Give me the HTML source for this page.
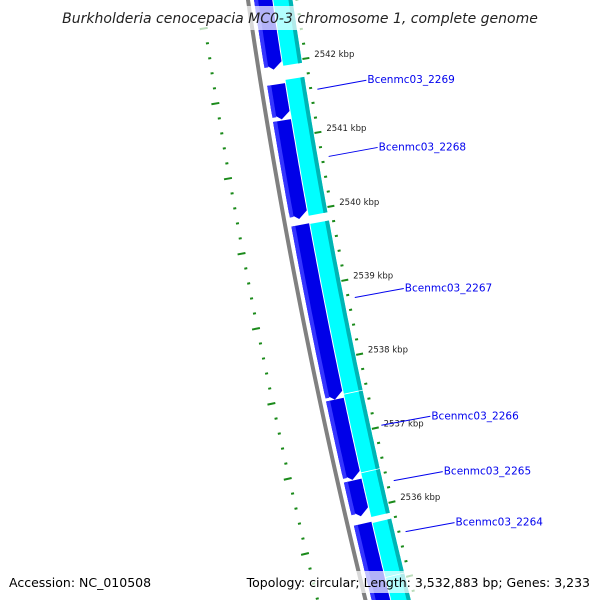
<!DOCTYPE html>
<html><head><meta charset="utf-8"><style>
html,body{margin:0;padding:0;background:#fff;}
svg{display:block;font-family:"DejaVu Sans","Liberation Sans",sans-serif;}
</style></head><body>
<svg id="chart" width="600" height="600" viewBox="0 0 600 600" xmlns="http://www.w3.org/2000/svg">
<g id="layer"></g>
<rect x="62" y="6" width="476" height="24" fill="#fff" opacity="0.7"/>
<text x="300" y="23" text-anchor="middle" font-style="italic" font-size="14" fill="#222">Burkholderia cenocepacia MC0-3 chromosome 1, complete genome</text>
<rect x="5" y="571" width="143" height="22" fill="#fff" opacity="0.7"/>
<text x="9" y="587" font-size="12.5" fill="#000">Accession: NC_010508</text>
<rect x="257" y="571" width="338" height="22" fill="#fff" opacity="0.7"/>
<text x="590" y="587" text-anchor="end" font-size="12.5" fill="#000">Topology: circular; Length: 3,532,883 bp; Genes: 3,233</text>
</svg>
<script>
// data (kbp)
const minusGeneStarts = [2543.0, 2541.72, 2541.235, 2539.83, 2537.48, 2536.39, 2535.81];
const minusGeneEnds   = [2541.92, 2541.25, 2539.91, 2537.48, 2536.40, 2535.91, 2534.6];
const plusGeneStarts  = [2543.0, 2541.76, 2539.82, 2537.52, 2536.46, 2535.79, 2535.05];
const plusGeneEnds    = [2541.94, 2539.92, 2537.52, 2536.46, 2535.86, 2535.05, 2534.6];
const majorTicks = [2536, 2537, 2538, 2539, 2540, 2541, 2542];
const tickLabels = ["2536 kbp","2537 kbp","2538 kbp","2539 kbp","2540 kbp","2541 kbp","2542 kbp"];
const geneLabelPos = [2541.57, 2540.66, 2538.75, 2537.02, 2536.27, 2535.58];
const geneLabelText = ["Bcenmc03_2269","Bcenmc03_2268","Bcenmc03_2267","Bcenmc03_2266","Bcenmc03_2265","Bcenmc03_2264"];

const NS='http://www.w3.org/2000/svg';
const layer=document.getElementById('layer');
function yOf(kbp){return 66+(2542-kbp)*74.5;}
function gx(y){return 248+0.1458*y+8.33e-5*y*y;}
function pt(y,d){const s=0.1458+1.666e-4*y;const L=Math.sqrt(1+s*s);return [gx(y)+d/L, y-d*s/L];}
function mk(tag,attrs){const e=document.createElementNS(NS,tag);for(const k in attrs)e.setAttribute(k,attrs[k]);layer.appendChild(e);return e;}
function band(y1,y2,o1,o2,fill,arrow){
  const a=[],b=[];const n=30;
  const yEnd=arrow?y2-7:y2;
  for(let i=0;i<=n;i++){const y=y1+(yEnd-y1)*i/n;a.push(pt(y,o1));b.push(pt(y,o2));}
  let pts=a.slice();
  if(arrow){pts.push(pt(y2,(o1+o2)/2));}
  pts=pts.concat(b.reverse());
  return mk('polygon',{points:pts.map(p=>p[0].toFixed(1)+','+p[1].toFixed(1)).join(' '),fill:fill});
}
// backbone
{const p=[];for(let y=-10;y<=610;y+=10)p.push(pt(y,0));
 const e=mk('polyline',{points:p.map(q=>q.join(',')).join(' '),fill:'none',stroke:'#808080','stroke-width':4});
 }
// minus genes
for(let i=0;i<minusGeneStarts.length;i++){
  const y1=Math.max(-20,yOf(minusGeneStarts[i])), y2=Math.min(620,yOf(minusGeneEnds[i]));
  const arrow=yOf(minusGeneEnds[i])<600;
  let e=band(y1,y2,6,24,'#0000e8',arrow);
  
  e=band(y1,y2-(arrow?3:0),6,10,'#3535ff',false);
  
}
// plus genes
for(let i=0;i<plusGeneStarts.length;i++){
  const y1=Math.max(-20,yOf(plusGeneStarts[i])), y2=Math.min(620,yOf(plusGeneEnds[i]));
  let e=band(y1,y2-0.8,25,44,'#00ffff',false);
  
  e=band(y1,y2-0.8,40,44,'#00b4b4',false);
  
}
// ticks
for(let k=0;k<=45;k++){
  const kb=2534.6+k*0.2;const y=yOf(kb);if(y<-5||y>605)continue;
  const major=Math.abs(kb-Math.round(kb))<0.01;
  const [x1,y1]=pt(y,major?45:47),[x2,y2]=pt(y,major?52:50);
  const e=mk('line',{x1:x1,y1:y1,x2:x2,y2:y2,stroke:'#1a8a1a','stroke-width':2});
  
  const leftMajor=Math.abs((kb-0.8)-Math.round(kb-0.8))<0.01;
  const [a1,b1]=pt(y+15,leftMajor?-52:-48),[a2,b2]=pt(y+15,leftMajor?-44:-45);
  const g=mk('line',{x1:a1,y1:b1,x2:a2,y2:b2,stroke:'#1a8a1a','stroke-width':2});
  
}
for(let i=0;i<majorTicks.length;i++){
  const y=yOf(majorTicks[i]);const [x,yy]=pt(y,57);
  const t=mk('text',{x:x,y:yy,'font-size':8.5,fill:'#222'});t.textContent=tickLabels[i];
  
}
for(let i=0;i<geneLabelPos.length;i++){
  const y=yOf(geneLabelPos[i]);const [x,yy]=pt(y,55);
  const l=mk('line',{x1:x,y1:yy,x2:x+49,y2:yy-9,stroke:'#0000ee','stroke-width':1});
  
  const t=mk('text',{x:x+50,y:yy-6,'font-size':10.5,fill:'#0000ee'});t.textContent=geneLabelText[i];
  
}
</script>
</body></html>
